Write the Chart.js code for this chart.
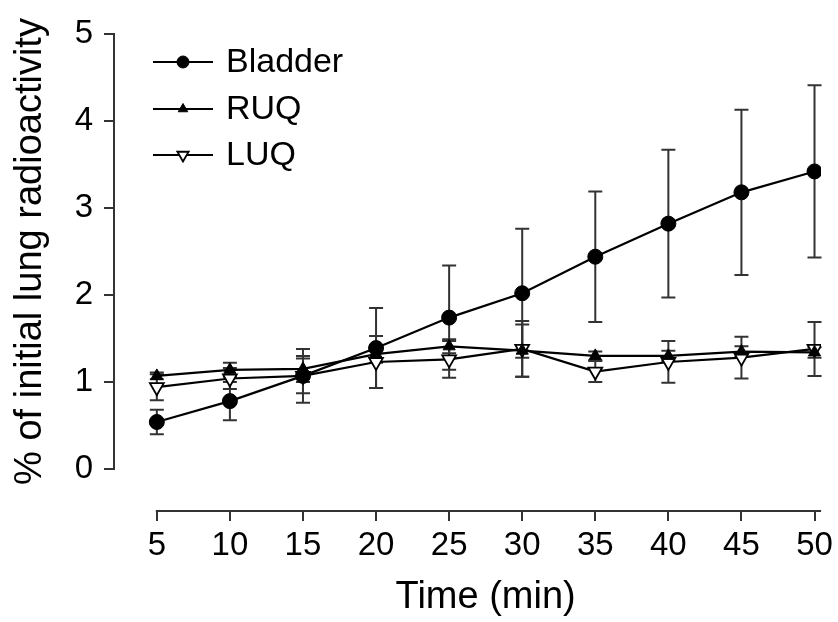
<!DOCTYPE html>
<html>
<head>
<meta charset="utf-8">
<script src="https://cdn.jsdelivr.net/npm/chart.js@4.4.0/dist/chart.umd.min.js"></script>
<style>
  html, body { margin: 0; padding: 0; background: #fff; }
  #wrap { width: 838px; height: 622px; }
</style>
</head>
<body>
<div id="wrap"><canvas id="plot"></canvas></div>
<script>
// values (mean and error bar half-length)
const times = [5, 10, 15, 20, 25, 30, 35, 40, 45, 50];
const bladder   = [0.54, 0.78, 1.07, 1.39, 1.74, 2.02, 2.44, 2.82, 3.18, 3.42];
const bladderSd = [0.14, 0.22, 0.31, 0.46, 0.60, 0.74, 0.75, 0.85, 0.95, 0.99];
const ruq   = [1.07, 1.14, 1.15, 1.32, 1.41, 1.36, 1.30, 1.30, 1.35, 1.34];
const ruqSd = [0.04, 0.08, 0.15, 0.10, 0.08, 0.30, 0.05, 0.06, 0.06, 0.06];
const luq   = [0.94, 1.04, 1.07, 1.23, 1.26, 1.38, 1.12, 1.23, 1.28, 1.38];
const luqSd = [0.15, 0.12, 0.20, 0.30, 0.21, 0.32, 0.12, 0.24, 0.24, 0.31];
const xTicks = [5, 10, 15, 20, 25, 30, 35, 40, 45, 50];
const yTicks = [0, 1, 2, 3, 4, 5];
const xTitle = 'Time (min)';
const yTitle = '% of initial lung radioactivity';

const sdList = [bladderSd, ruqSd, luqSd];
const FONT = "'Liberation Sans', Arial, sans-serif";

Chart.defaults.font.family = FONT;
Chart.defaults.color = '#000';

function pts(arr) {
  return times.map((t, i) => ({ x: t, y: arr[i] }));
}

// error bars under the lines
const errorBars = {
  id: 'errorBars',
  beforeDatasetsDraw(chart) {
    const { ctx, scales: { x, y } } = chart;
    ctx.save();
    ctx.strokeStyle = '#333';
    ctx.lineWidth = 2;
    chart.data.datasets.forEach((ds, k) => {
      ds.data.forEach((p, i) => {
        const px = x.getPixelForValue(p.x);
        const top = y.getPixelForValue(p.y + sdList[k][i]);
        const bot = y.getPixelForValue(p.y - sdList[k][i]);
        ctx.beginPath();
        ctx.moveTo(px, top); ctx.lineTo(px, bot);
        ctx.moveTo(px - 7, top); ctx.lineTo(px + 7, top);
        ctx.moveTo(px - 7, bot); ctx.lineTo(px + 7, bot);
        ctx.stroke();
      });
    });
    ctx.restore();
  }
};

// detached axis lines, axis titles and legend with line through marker
const extras = {
  id: 'extras',
  afterDraw(chart) {
    const { ctx, scales: { x, y }, chartArea } = chart;
    const x0 = x.getPixelForValue(xTicks[0]);
    const x1 = x.getPixelForValue(xTicks[xTicks.length - 1]);
    const y0 = y.getPixelForValue(yTicks[0]);
    const y1 = y.getPixelForValue(yTicks[yTicks.length - 1]);
    ctx.save();
    ctx.strokeStyle = '#333';
    ctx.lineWidth = 2;
    ctx.beginPath();
    ctx.moveTo(x0 - 1, chartArea.bottom);
    ctx.lineTo(chartArea.right, chartArea.bottom);
    ctx.moveTo(chartArea.left, y0 + 1);
    ctx.lineTo(chartArea.left, y1 - 1);
    ctx.stroke();

    ctx.fillStyle = '#000';
    ctx.font = '38px ' + FONT;
    ctx.textAlign = 'center';
    ctx.textBaseline = 'middle';
    ctx.fillText(xTitle, (x0 + x1) / 2, 598);
    ctx.save();
    ctx.translate(31, (y0 + y1) / 2);
    ctx.rotate(-Math.PI / 2);
    ctx.fillText(yTitle, 0, 0);
    ctx.restore();

    const rows = [62, 109, 155];
    ctx.textAlign = 'left';
    chart.data.datasets.forEach((ds, k) => {
      const ly = rows[k];
      ctx.strokeStyle = '#000';
      ctx.lineWidth = 2;
      ctx.beginPath();
      ctx.moveTo(153, ly); ctx.lineTo(213, ly);
      ctx.stroke();
      ctx.fillStyle = ds.pointBackgroundColor;
      ctx.lineWidth = ds.pointBorderWidth;
      Chart.helpers.drawPoint(ctx, {
        pointStyle: ds.pointStyle,
        rotation: ds.pointRotation || 0,
        radius: ds.pointRadius - 1.5,
        borderWidth: ds.pointBorderWidth
      }, 183, ly);
      ctx.fillStyle = '#000';
      ctx.font = '34px ' + FONT;
      ctx.fillText(ds.label, 226, ly + 1);
    });
    ctx.restore();
  }
};

new Chart(document.getElementById('plot'), {
  type: 'line',
  data: {
    datasets: [{
      label: 'Bladder',
      data: pts(bladder),
      borderColor: '#000',
      borderWidth: 2.2,
      pointStyle: 'circle',
      pointRadius: 7.5,
      pointBackgroundColor: '#000',
      pointBorderColor: '#000',
      pointBorderWidth: 1
    }, {
      label: 'RUQ',
      data: pts(ruq),
      borderColor: '#000',
      borderWidth: 2.2,
      pointStyle: 'triangle',
      pointRadius: 7,
      pointBackgroundColor: '#000',
      pointBorderColor: '#000',
      pointBorderWidth: 1
    }, {
      label: 'LUQ',
      data: pts(luq),
      borderColor: '#000',
      borderWidth: 2.2,
      pointStyle: 'triangle',
      pointRotation: 180,
      pointRadius: 8,
      pointBackgroundColor: '#fff',
      pointBorderColor: '#000',
      pointBorderWidth: 1.8
    }]
  },
  options: {
    responsive: true,
    maintainAspectRatio: false,
    animation: false,
    devicePixelRatio: 1,
    layout: { padding: { top: 34, right: 14, left: 0, bottom: 0 } },
    plugins: { legend: { display: false }, tooltip: { enabled: false } },
    scales: {
      x: {
        type: 'linear',
        min: 2.07,
        max: 50.45,
        afterBuildTicks: s => { s.ticks = xTicks.map(v => ({ value: v })); },
        afterFit: s => { s.height = 111; },
        grid: { drawOnChartArea: false, tickLength: 10, color: '#333', lineWidth: 2 },
        border: { display: false },
        ticks: { font: { size: 33 }, padding: 5, maxRotation: 0, autoSkip: false }
      },
      y: {
        min: -0.483,
        max: 5,
        afterBuildTicks: s => { s.ticks = yTicks.map(v => ({ value: v })); },
        afterFit: s => { s.width = 114; },
        grid: { drawOnChartArea: false, tickLength: 10, color: '#333', lineWidth: 2 },
        border: { display: false },
        ticks: { font: { size: 33 }, padding: 11 }
      }
    }
  },
  plugins: [errorBars, extras]
});
</script>
</body>
</html>
